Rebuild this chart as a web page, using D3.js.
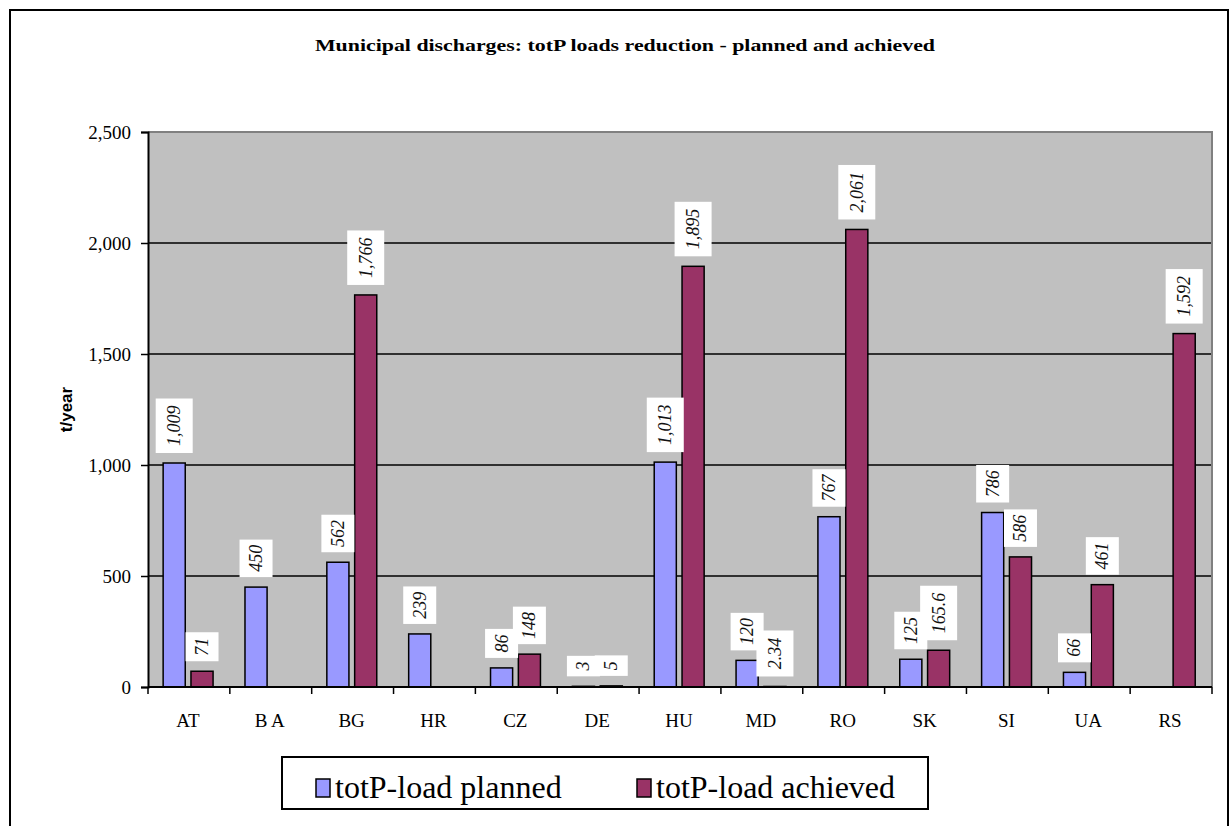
<!DOCTYPE html>
<html>
<head>
<meta charset="utf-8">
<script src="https://cdn.jsdelivr.net/npm/d3@7"></script>
<style>
  html, body { margin: 0; padding: 0; background: #fff; }
  svg { display: block; }
  .serif { font-family: "Liberation Serif", "Times New Roman", serif; }
  .sans { font-family: "Liberation Sans", Arial, sans-serif; }
</style>
</head>
<body>
<svg id="chart" width="1230" height="826"></svg>
<script>
// Country codes along the x axis
const countries = ["AT", "BA", "BG", "HR", "CZ", "DE", "HU", "MD", "RO", "SK", "SI", "UA", "RS"];
// totP load reduction, t/year (null = no bar / no label)
const planned  = [1009, 450, 562, 239, 86, 3, 1013, 120, 767, 125, 786, 66, null];
const achieved = [71, null, 1766, null, 148, 5, 1895, 2.34, 2061, 165.6, 586, 461, 1592];
// Label text for each value
const plannedLabels  = ["1,009", "450", "562", "239", "86", "3", "1,013", "120", "767", "125", "786", "66", ""];
const achievedLabels = ["71", "", "1,766", "", "148", "5", "1,895", "2.34", "2,061", "165.6", "586", "461", "1,592"];
const yTicks = [0, 500, 1000, 1500, 2000, 2500];
const seriesNames = ["totP-load planned", "totP-load achieved"];
const seriesColors = ["#9999FF", "#993366"];

const svg = d3.select("#chart");

// Outer chart frame
svg.append("rect")
  .attr("x", 10).attr("y", 10).attr("width", 1218).attr("height", 840)
  .attr("fill", "#fff").attr("stroke", "#000").attr("stroke-width", 2);

const plot = { left: 148, right: 1212, top: 132, bottom: 687 };

const x = d3.scaleBand().domain(countries).range([plot.left, plot.right]).padding(0);
const y = d3.scaleLinear().domain([0, 2500]).range([plot.bottom, plot.top]);

// Plot area background
svg.append("rect")
  .attr("x", plot.left).attr("y", plot.top)
  .attr("width", plot.right - plot.left).attr("height", plot.bottom - plot.top)
  .attr("fill", "#C0C0C0");

// Gridlines
svg.append("g").selectAll("line")
  .data(yTicks.filter(t => t > 0 && t < 2500))
  .join("line")
  .attr("x1", plot.left).attr("x2", plot.right)
  .attr("y1", d => y(d)).attr("y2", d => y(d))
  .attr("stroke", "#000").attr("stroke-width", 1.5);

// Plot area top/right border
svg.append("path")
  .attr("d", `M${plot.left},${plot.top}H${plot.right}V${plot.bottom}`)
  .attr("fill", "none").attr("stroke", "#808080").attr("stroke-width", 2);

// Bars
const bw = x.bandwidth();
const barW = bw * 0.27;
const gap = bw * 0.07;
const offs = [bw * 0.185, bw * 0.185 + barW + gap];
const series = [planned, achieved];
const labels = [plannedLabels, achievedLabels];

series.forEach((vals, si) => {
  svg.append("g").selectAll("rect")
    .data(countries.map((c, i) => ({ c, v: vals[i] })).filter(d => d.v !== null))
    .join("rect")
    .attr("x", d => x(d.c) + offs[si])
    .attr("y", d => y(d.v))
    .attr("width", barW)
    .attr("height", d => y(0) - y(d.v))
    .attr("fill", seriesColors[si])
    .attr("stroke", "#000").attr("stroke-width", 1.5);
});

// Axes
const yAxis = d3.axisLeft(y).tickValues(yTicks).tickSize(7).tickPadding(10)
  .tickFormat(d3.format(","));
const gy = svg.append("g").attr("transform", `translate(${plot.left},0)`).call(yAxis)
  .attr("font-family", null).attr("font-size", null).attr("class", "serif");
gy.select(".domain").attr("stroke", "#000").attr("stroke-width", 2);
gy.selectAll(".tick line").attr("stroke", "#000").attr("stroke-width", 1.5);
gy.selectAll(".tick text")
  .attr("font-size", 19).attr("fill", "#000");

// Bottom axis with ticks at category boundaries
svg.append("line")
  .attr("x1", plot.left).attr("x2", plot.right)
  .attr("y1", plot.bottom).attr("y2", plot.bottom)
  .attr("stroke", "#000").attr("stroke-width", 2);
const bounds = countries.map(c => x(c)).concat([plot.right]);
svg.append("g").selectAll("line")
  .data(bounds).join("line")
  .attr("x1", d => d).attr("x2", d => d)
  .attr("y1", plot.bottom).attr("y2", plot.bottom + 7)
  .attr("stroke", "#000").attr("stroke-width", 1.5);
svg.append("g").attr("class", "serif").selectAll("text")
  .data(countries).join("text")
  .attr("x", d => x(d) + bw / 2 - 1)
  .attr("y", plot.bottom + 40)
  .attr("text-anchor", "middle")
  .attr("font-size", 19)
  .text(d => d === "BA" ? "B A" : d);

// Data labels: rotated values in white boxes above the bars
series.forEach((vals, si) => {
  const items = countries.map((c, i) => ({ c, v: vals[i], t: labels[si][i] }))
    .filter(d => d.v !== null && d.t !== "");
  const g = svg.append("g").attr("class", "serif");
  items.forEach(d => {
    const cx = x(d.c) + offs[si] + barW / 2;
    const boxH = 12 + d.t.length * 8.5;
    const boxW = d.t.length > 3 ? 37 : 33;
    const bottom = y(d.v) - 10;
    g.append("rect")
      .attr("x", cx - boxW / 2).attr("y", bottom - boxH)
      .attr("width", boxW).attr("height", boxH)
      .attr("fill", "#fff");
    g.append("text")
      .attr("transform", `translate(${cx + 6},${bottom - boxH / 2}) rotate(-90)`)
      .attr("text-anchor", "middle")
      .attr("font-style", "italic")
      .attr("font-size", 18)
      .attr("fill", "#111")
      .text(d.t);
  });
});

// Title
svg.append("text")
  .attr("class", "serif")
  .attr("x", 625).attr("y", 51)
  .attr("text-anchor", "middle")
  .attr("font-weight", "bold").attr("font-size", 17)
  .attr("textLength", 620).attr("lengthAdjust", "spacingAndGlyphs")
  .text("Municipal discharges: totP loads reduction - planned and achieved");

// Y axis title
svg.append("text")
  .attr("class", "sans")
  .attr("transform", `translate(72,${(plot.top + plot.bottom) / 2}) rotate(-90)`)
  .attr("text-anchor", "middle")
  .attr("font-weight", "bold").attr("font-size", 17)
  .text("t/year");

// Legend
const legend = svg.append("g").attr("class", "serif");
legend.append("rect")
  .attr("x", 282).attr("y", 757).attr("width", 646).attr("height", 52)
  .attr("fill", "#fff").attr("stroke", "#000").attr("stroke-width", 2);
const legendX = [316, 637];
seriesNames.forEach((name, i) => {
  legend.append("rect")
    .attr("x", legendX[i]).attr("y", 779).attr("width", 14).attr("height", 18)
    .attr("fill", seriesColors[i]).attr("stroke", "#000").attr("stroke-width", 1.5);
  legend.append("text")
    .attr("x", legendX[i] + 19).attr("y", 798)
    .attr("font-size", 32)
    .text(name);
});
</script>
</body>
</html>
